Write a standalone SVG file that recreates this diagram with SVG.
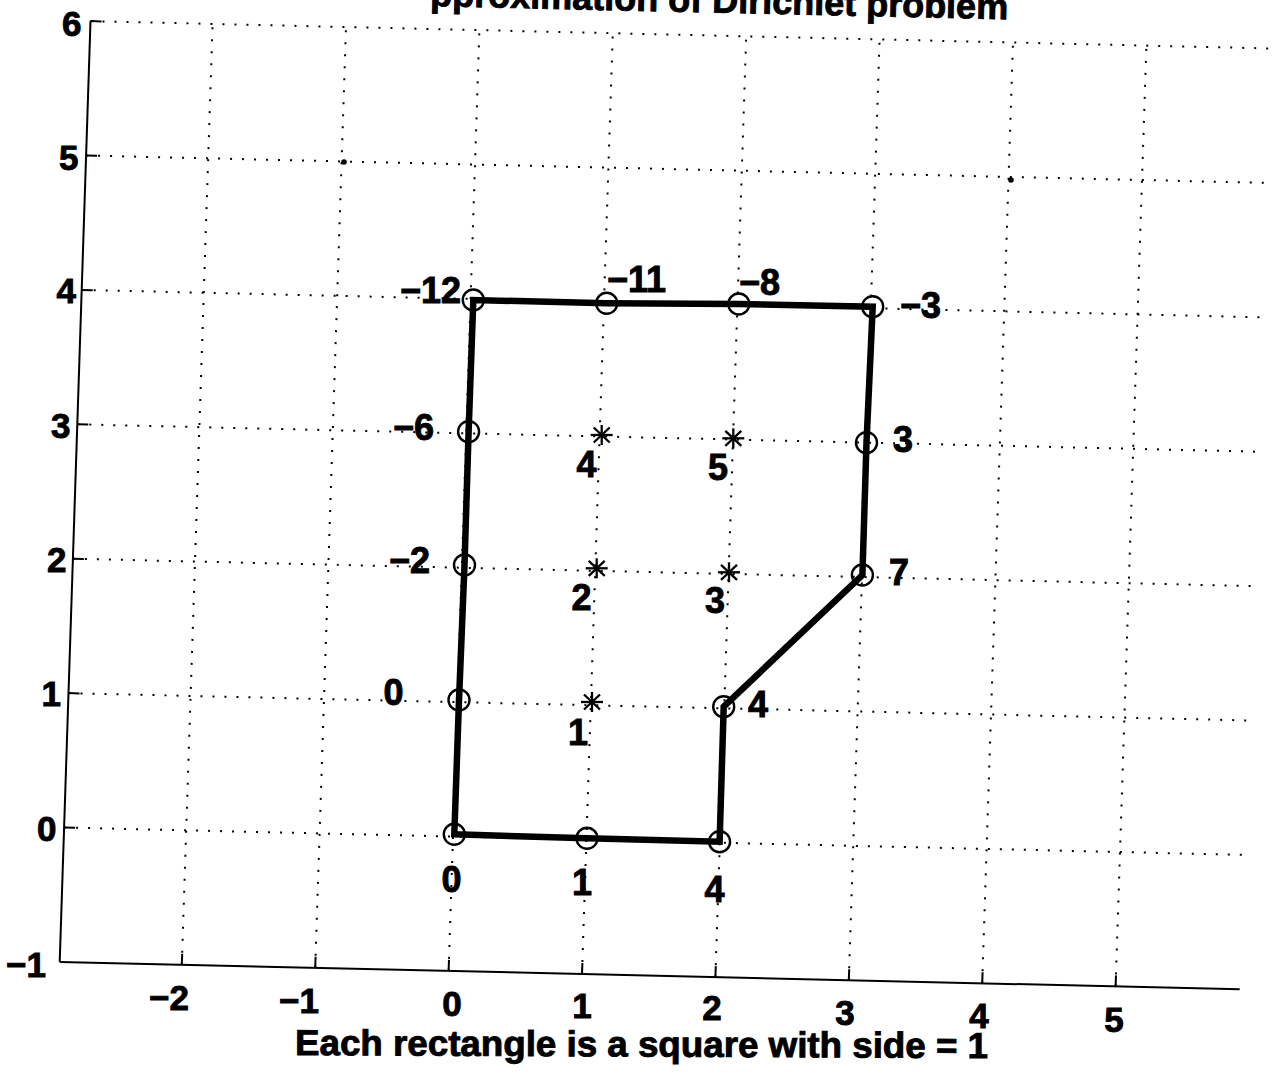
<svg xmlns="http://www.w3.org/2000/svg" width="1280" height="1080" viewBox="0 0 1280 1080">
<style>
  .grid { stroke:#000; stroke-width:2; stroke-dasharray:2 10; fill:none; }
  .axis { stroke:#000; stroke-width:2; fill:none; }
  .tick { font-family:"Liberation Sans", Arial, sans-serif; font-weight:bold; font-size:35px; fill:#000; stroke:#000; stroke-width:0.9; }
  .lbl { font-family:"Liberation Sans", Arial, sans-serif; font-weight:bold; font-size:36px; fill:#000; stroke:#000; stroke-width:0.9; }
  .pt { fill:none; stroke:#000; stroke-width:2.4; }
  .star { stroke:#000; stroke-width:2.3; fill:none; }
  .edge { fill:none; stroke:#000; stroke-width:6.5; stroke-linejoin:miter; }
</style>
<defs>
  <g id="ast">
    <line x1="0" y1="-10" x2="0" y2="10"/>
    <line x1="-11" y1="0" x2="11" y2="0"/>
    <line x1="-8" y1="-7.5" x2="8" y2="7.5"/>
    <line x1="-8" y1="7.5" x2="8" y2="-7.5"/>
  </g>
</defs>
<rect width="1280" height="1080" fill="#fff"/>

<g id="title">
  <text class="lbl" x="430" y="6" font-size="37" transform="rotate(1.3 430 6)">pproximation of Dirichlet problem</text>
</g>

<g id="grid">
  <line class="grid" x1="64.1" y1="827.5" x2="1244.1" y2="854.9"/>
  <line class="grid" x1="68.5" y1="693.1" x2="1248.5" y2="720.5"/>
  <line class="grid" x1="72.9" y1="558.7" x2="1252.9" y2="586.1"/>
  <line class="grid" x1="77.3" y1="424.3" x2="1257.3" y2="451.7"/>
  <line class="grid" x1="81.7" y1="289.9" x2="1261.7" y2="317.3"/>
  <line class="grid" x1="86.1" y1="155.5" x2="1266.1" y2="182.9"/>
  <line class="grid" x1="90.5" y1="21.1" x2="1270.5" y2="48.5"/>
  <line class="grid" x1="181.8" y1="964.7" x2="212.6" y2="23.9"/>
  <line class="grid" x1="315.2" y1="967.8" x2="346.0" y2="27.0"/>
  <line class="grid" x1="448.6" y1="970.9" x2="479.4" y2="30.1"/>
  <line class="grid" x1="582.0" y1="974.0" x2="612.8" y2="33.2"/>
  <line class="grid" x1="715.4" y1="977.1" x2="746.2" y2="36.3"/>
  <line class="grid" x1="848.8" y1="980.2" x2="879.6" y2="39.4"/>
  <line class="grid" x1="982.2" y1="983.3" x2="1013.0" y2="42.5"/>
  <line class="grid" x1="1115.6" y1="986.4" x2="1146.4" y2="45.6"/>
  <circle cx="344" cy="162" r="2.8" fill="#000"/>
  <circle cx="1011" cy="180" r="2.8" fill="#000"/>
</g>

<g id="axes">
  <line class="axis" x1="59.7" y1="961.9" x2="90.5" y2="21.1"/>
  <line class="axis" x1="59.7" y1="961.9" x2="1239.7" y2="989.3"/>
  <line class="axis" x1="181.8" y1="964.7" x2="182.2" y2="953.7"/>
  <line class="axis" x1="315.2" y1="967.8" x2="315.6" y2="956.8"/>
  <line class="axis" x1="448.6" y1="970.9" x2="449.0" y2="959.9"/>
  <line class="axis" x1="582.0" y1="974.0" x2="582.4" y2="963.0"/>
  <line class="axis" x1="715.4" y1="977.1" x2="715.8" y2="966.1"/>
  <line class="axis" x1="848.8" y1="980.2" x2="849.2" y2="969.2"/>
  <line class="axis" x1="982.2" y1="983.3" x2="982.6" y2="972.3"/>
  <line class="axis" x1="1115.6" y1="986.4" x2="1116.0" y2="975.4"/>
  <line class="axis" x1="64.1" y1="827.5" x2="75.1" y2="827.8"/>
  <line class="axis" x1="68.5" y1="693.1" x2="79.5" y2="693.4"/>
  <line class="axis" x1="72.9" y1="558.7" x2="83.9" y2="559.0"/>
  <line class="axis" x1="77.3" y1="424.3" x2="88.3" y2="424.6"/>
  <line class="axis" x1="81.7" y1="289.9" x2="92.7" y2="290.2"/>
  <line class="axis" x1="86.1" y1="155.5" x2="97.1" y2="155.8"/>
  <line class="axis" x1="90.5" y1="21.1" x2="101.5" y2="21.4"/>
</g>

<g id="y-tick-labels" class="tick" text-anchor="end">
  <text x="81.5" y="36">6</text>
  <text x="78.5" y="170">5</text>
  <text x="76" y="303">4</text>
  <text x="70.5" y="438">3</text>
  <text x="66.5" y="572">2</text>
  <text x="61" y="706">1</text>
  <text x="56.5" y="841">0</text>
  <text x="46" y="977">−1</text>
</g>

<g id="x-tick-labels" class="tick" text-anchor="middle">
  <text x="169" y="1010">−2</text>
  <text x="299" y="1013">−1</text>
  <text x="452" y="1016">0</text>
  <text x="582" y="1018">1</text>
  <text x="712" y="1020">2</text>
  <text x="845" y="1025">3</text>
  <text x="979" y="1028">4</text>
  <text x="1114" y="1032">5</text>
</g>

<g id="xlabel">
  <text class="lbl" x="295" y="1055" textLength="693" lengthAdjust="spacingAndGlyphs" transform="rotate(0.25 295 1055)">Each rectangle is a square with side = 1</text>
</g>

<g id="connectors">
  <polygon class="edge" points="454.3,834.3 587,838.3 719.6,841.7 723.7,706.7 862.4,575 866.5,442.7 872.7,306.7 738.8,304 606.7,303.3 473.3,300 468.6,431.7 464.5,565 459,700"/>
</g>

<g id="boundary-points">
  <g id="b-0-0"><circle class="pt" cx="454.3" cy="834.3" r="10.5"/><text class="lbl" x="451.6" y="891.7" text-anchor="middle">0</text></g>
  <g id="b-1-0"><circle class="pt" cx="587" cy="838.3" r="10.5"/><text class="lbl" x="582" y="895" text-anchor="middle">1</text></g>
  <g id="b-2-0"><circle class="pt" cx="719.6" cy="841.7" r="10.5"/><text class="lbl" x="714.4" y="901.7" text-anchor="middle">4</text></g>
  <g id="b-2-1"><circle class="pt" cx="723.7" cy="706.7" r="10.5"/><text class="lbl" x="748" y="716.7">4</text></g>
  <g id="b-3-2"><circle class="pt" cx="862.4" cy="575" r="10.5"/><text class="lbl" x="889" y="585">7</text></g>
  <g id="b-3-3"><circle class="pt" cx="866.5" cy="442.7" r="10.5"/><text class="lbl" x="893" y="451.7">3</text></g>
  <g id="b-3-4"><circle class="pt" cx="872.7" cy="306.7" r="10.5"/><text class="lbl" x="900" y="318">−3</text></g>
  <g id="b-2-4"><circle class="pt" cx="738.8" cy="304" r="10.5"/><text class="lbl" x="739" y="295">−8</text></g>
  <g id="b-1-4"><circle class="pt" cx="606.7" cy="303.3" r="10.5"/><text class="lbl" x="607" y="292">−11</text></g>
  <g id="b-0-4"><circle class="pt" cx="473.3" cy="300" r="10.5"/><text class="lbl" x="461" y="303" text-anchor="end">−12</text></g>
  <g id="b-0-3"><circle class="pt" cx="468.6" cy="431.7" r="10.5"/><text class="lbl" x="434" y="440" text-anchor="end">−6</text></g>
  <g id="b-0-2"><circle class="pt" cx="464.5" cy="565" r="10.5"/><text class="lbl" x="430" y="573.3" text-anchor="end">−2</text></g>
  <g id="b-0-1"><circle class="pt" cx="459" cy="700" r="10.5"/><text class="lbl" x="403.5" y="705" text-anchor="end">0</text></g>
</g>

<g id="interior-points">
  <g id="i-1"><use href="#ast" class="star" x="592" y="702"/><text class="lbl" x="588" y="745" text-anchor="end">1</text></g>
  <g id="i-2"><use href="#ast" class="star" x="596.7" y="568.3"/><text class="lbl" x="591.5" y="610" text-anchor="end">2</text></g>
  <g id="i-3"><use href="#ast" class="star" x="729" y="572.3"/><text class="lbl" x="725" y="613" text-anchor="end">3</text></g>
  <g id="i-4"><use href="#ast" class="star" x="601.7" y="435"/><text class="lbl" x="596.5" y="476.7" text-anchor="end">4</text></g>
  <g id="i-5"><use href="#ast" class="star" x="733.3" y="438.3"/><text class="lbl" x="728" y="480" text-anchor="end">5</text></g>
</g>
</svg>
